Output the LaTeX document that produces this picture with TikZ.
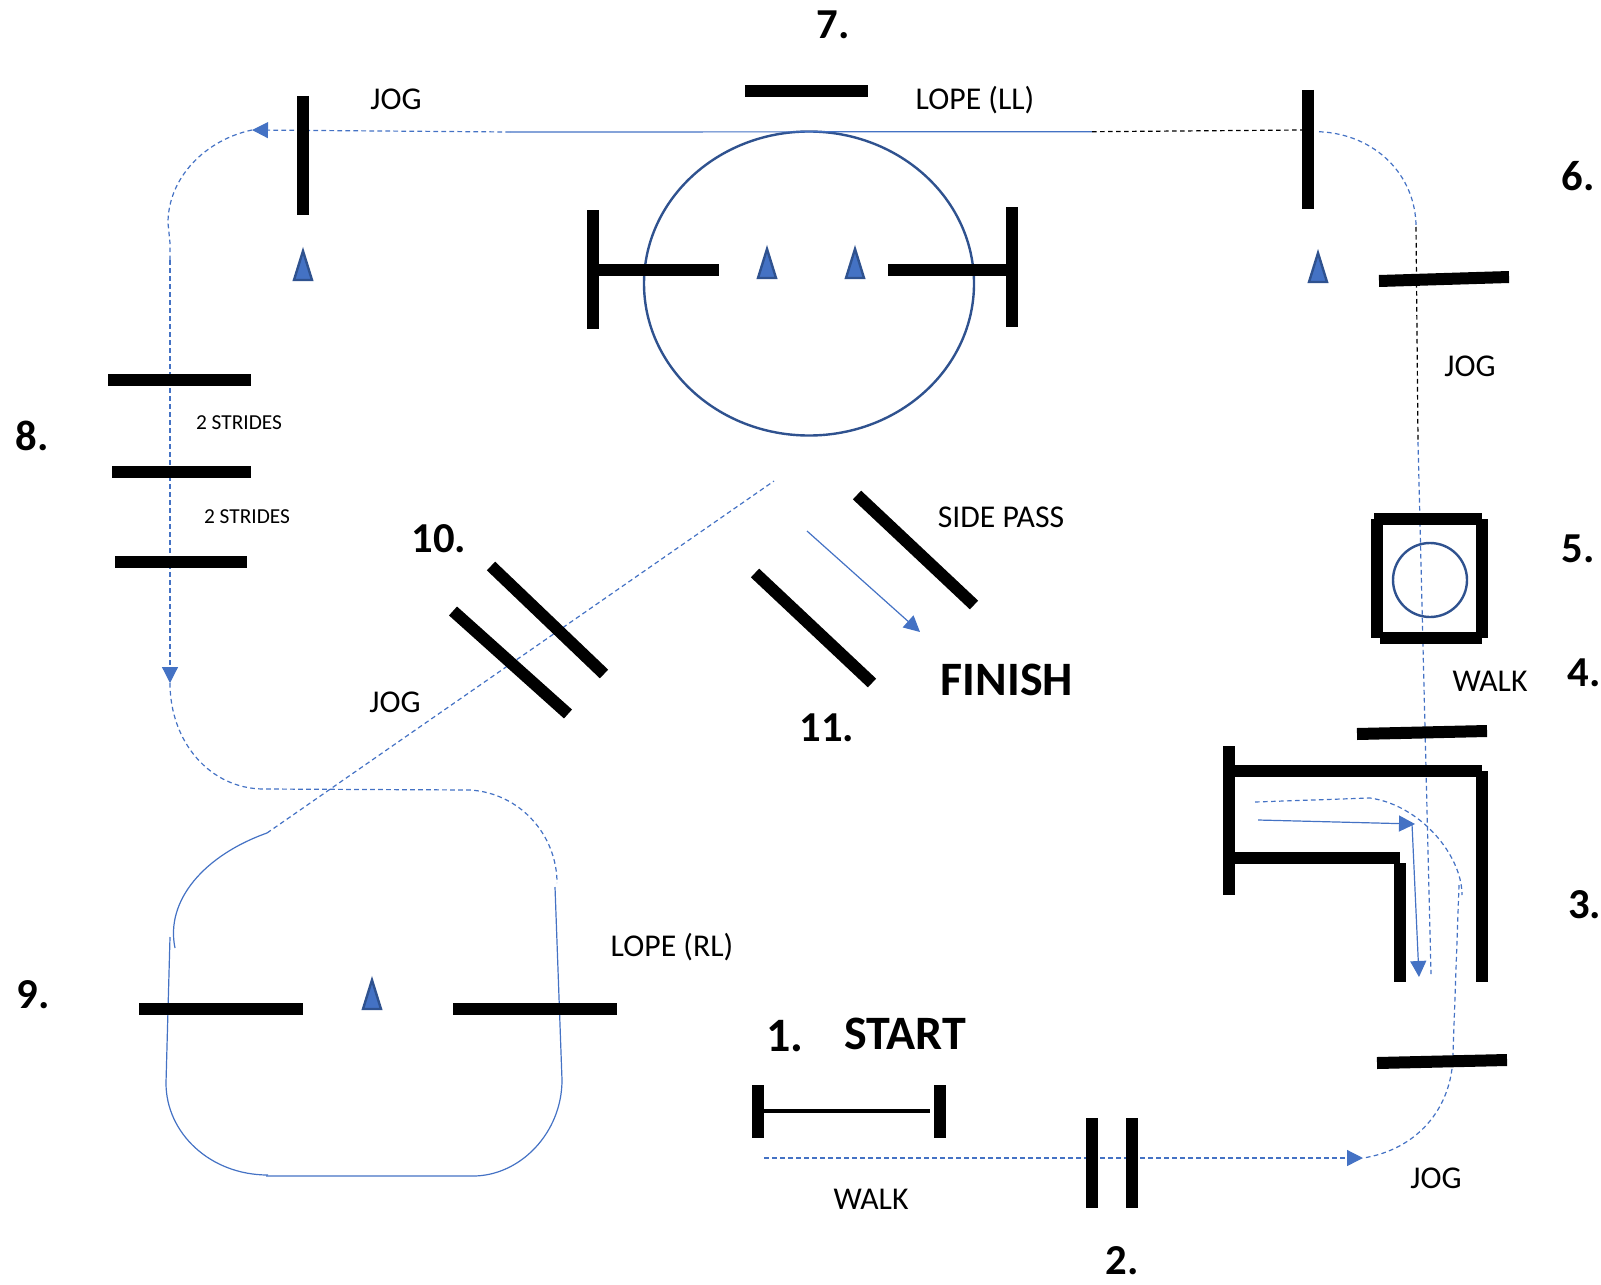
\documentclass[tikz,border=0pt]{standalone}
\usepackage{fontspec}
\setmainfont{Carlito}
\usetikzlibrary{arrows, arrows.meta}
\definecolor{routeblue}{HTML}{4472C4}
\definecolor{darkblue}{HTML}{2F528F}
\tikzset{
    pole/.style={line width=9pt},
    route/.style={routeblue, line width=0.9pt},
    routedash/.style={route, dash pattern=on 3.5pt off 2.5pt},
    blackdash/.style={black, line width=0.9pt, dash pattern=on 3.5pt off 2.5pt},
    tipblue/.style={-{Triangle[length=12pt,width=12pt]}},
    cone/.style={fill=routeblue, draw=darkblue, line width=1.8pt, line join=miter},
    ring/.style={draw=darkblue, line width=1.8pt},
    lbl/.style={inner sep=0pt, font=\fontsize{23.8}{27}\selectfont},
    smalllbl/.style={inner sep=0pt, font=\fontsize{16}{19}\selectfont},
    num/.style={inner sep=0pt, font=\fontsize{32}{36}\selectfont\bfseries},
    biglbl/.style={inner sep=0pt, font=\fontsize{36}{42}\selectfont\bfseries}
}

\begin{document}
\begin{tikzpicture}[x=0.75pt, y=-0.75pt]
\useasboundingbox (0,0) rectangle (1601,1284);

\draw [ring] (809,283.5) ellipse (165 and 152);
\draw [ring] (1430,580) circle (37);

\draw [routedash, tipblue] (510,132) -- (252,130);
\draw [route] (510,132) -- (1092,131.7);
\draw [blackdash] (1092,131.7) -- (1302,130);
\draw [routedash] (1319,131.7) .. controls (1375,134) and (1416,175) .. (1416,227);
\draw [blackdash] (1416,227) -- (1418,442);
\draw [routedash] (1418,442) -- (1431,974);
\draw [routedash] (252,130) .. controls (205,140) and (168,178) .. (168,223) -- (170,243) -- (170,260);
\draw [routedash, tipblue] (170,260) -- (170,683);
\draw [routedash] (170,683) .. controls (170,742) and (210,789) .. (264,789) -- (470,790) .. controls (520,793) and (557,835) .. (557,883);
\draw [route] (555,887) -- (562,1080) .. controls (562,1133) and (520,1176) .. (473,1176) -- (266,1176);
\draw [route] (268,1175) .. controls (210,1175) and (166,1133) .. (166,1083) -- (170,937);
\draw [route] (175,948) .. controls (165,900) and (205,855) .. (267,833);
\draw [routedash] (267,833) -- (774,481);
\draw [route, tipblue] (807,531) -- (920,632);

\draw [route, tipblue] (1258,820) -- (1415,824);
\draw [route, tipblue] (1412,824) -- (1419,977);
\draw [routedash] (1255,802) -- (1370,798) .. controls (1420,805) and (1462,855) .. (1462,895);
\draw [routedash] (1459,885) -- (1453,1053) .. controls (1453,1110) and (1415,1150) .. (1363,1158);
\draw [routedash, tipblue] (764,1158) -- (1363,1158);

\draw [pole] (593,210) -- (593,329);
\draw [pole] (593,270) -- (719,270);
\draw [pole] (1012,207) -- (1012,327);
\draw [pole] (888,270) -- (1012,270);
\draw [pole] (745,91) -- (868,91);
\draw [pole] (303,96) -- (303,215);
\draw [pole] (1308,90) -- (1308,209);
\draw [pole] (1379,281) -- (1509,277);
\draw [pole] (108,380) -- (251,380);
\draw [pole] (112,472) -- (251,472);
\draw [pole] (115,562) -- (247,562);
\draw [pole] (491,566) -- (604,674);
\draw [pole] (453,611) -- (568,714);
\draw [pole] (857,495) -- (974,605);
\draw [pole] (755,573) -- (872,683);
\draw [pole] (139,1009) -- (303,1009);
\draw [pole] (453,1009) -- (617,1009);
\draw [pole] (1374,519) -- (1482,519);
\draw [pole] (1380,638) -- (1482,638);
\draw [pole] (1377,519) -- (1377,638);
\draw [pole] (1482,519) -- (1482,638);
\draw [pole] (1357,734) -- (1487,731);
\draw [pole] (1229,746) -- (1229,895);
\draw [pole] (1229,771) -- (1482,771);
\draw [pole] (1229,858) -- (1400,858);
\draw [pole] (1400,863) -- (1400,982);
\draw [pole] (1482,771) -- (1482,982);
\draw [pole] (1377,1063) -- (1507,1060);
\draw [pole] (758,1085) -- (758,1138);
\draw [pole] (940,1085) -- (940,1138);
\draw [line width=3pt] (758,1111) -- (930,1111);
\draw [pole] (1092,1118) -- (1092,1208);
\draw [pole] (1132,1118) -- (1132,1208);

\foreach \cx/\cy in {303/280, 767/278, 855/278, 1318/282, 372/1009}
    \draw [cone] (\cx-9,\cy) -- (\cx,\cy-29) -- (\cx+9,\cy) -- cycle;

\node [num] (numseven) at (833,25) {7.};
\node [num] (numsix) at (1578,176) {6.};
\node [num] (numfive) at (1578,549) {5.};
\node [num] (numfour) at (1584,673) {4.};
\node [num, anchor=west] (numthree) at (1568,905) {3.};
\node [num] (numeight) at (32,436) {8.};
\node [num] (numnine) at (33,995) {9.};
\node [num] (numten) at (439,539) {10.};
\node [num] (numeleven) at (827,728) {11.};
\node [biglbl] (numone) at (785,1036) {1.};
\node [num] (numtwo) at (1122,1261) {2.};
\node [biglbl] (startlbl) at (905,1034) {START};
\node [biglbl] (finishlbl) at (1007,680) {FINISH};
\node [lbl] (jogtop) at (396,99) {JOG};
\node [lbl] (lopell) at (975,100) {LOPE (LL)};
\node [lbl] (jogright) at (1470,366) {JOG};
\node [smalllbl] (stridesa) at (239,422.5) {2 STRIDES};
\node [smalllbl] (stridesb) at (247,516.5) {2 STRIDES};
\node [lbl] (sidepass) at (1001,517) {SIDE PASS};
\node [lbl] (jogdiag) at (395,702) {JOG};
\node [lbl] (walkbox) at (1490,681) {WALK};
\node [lbl] (loperl) at (672,947) {LOPE (RL)};
\node [lbl] (walkstart) at (871,1199) {WALK};
\node [lbl] (jogbottom) at (1436,1178) {JOG};
\end{tikzpicture}
\end{document}
